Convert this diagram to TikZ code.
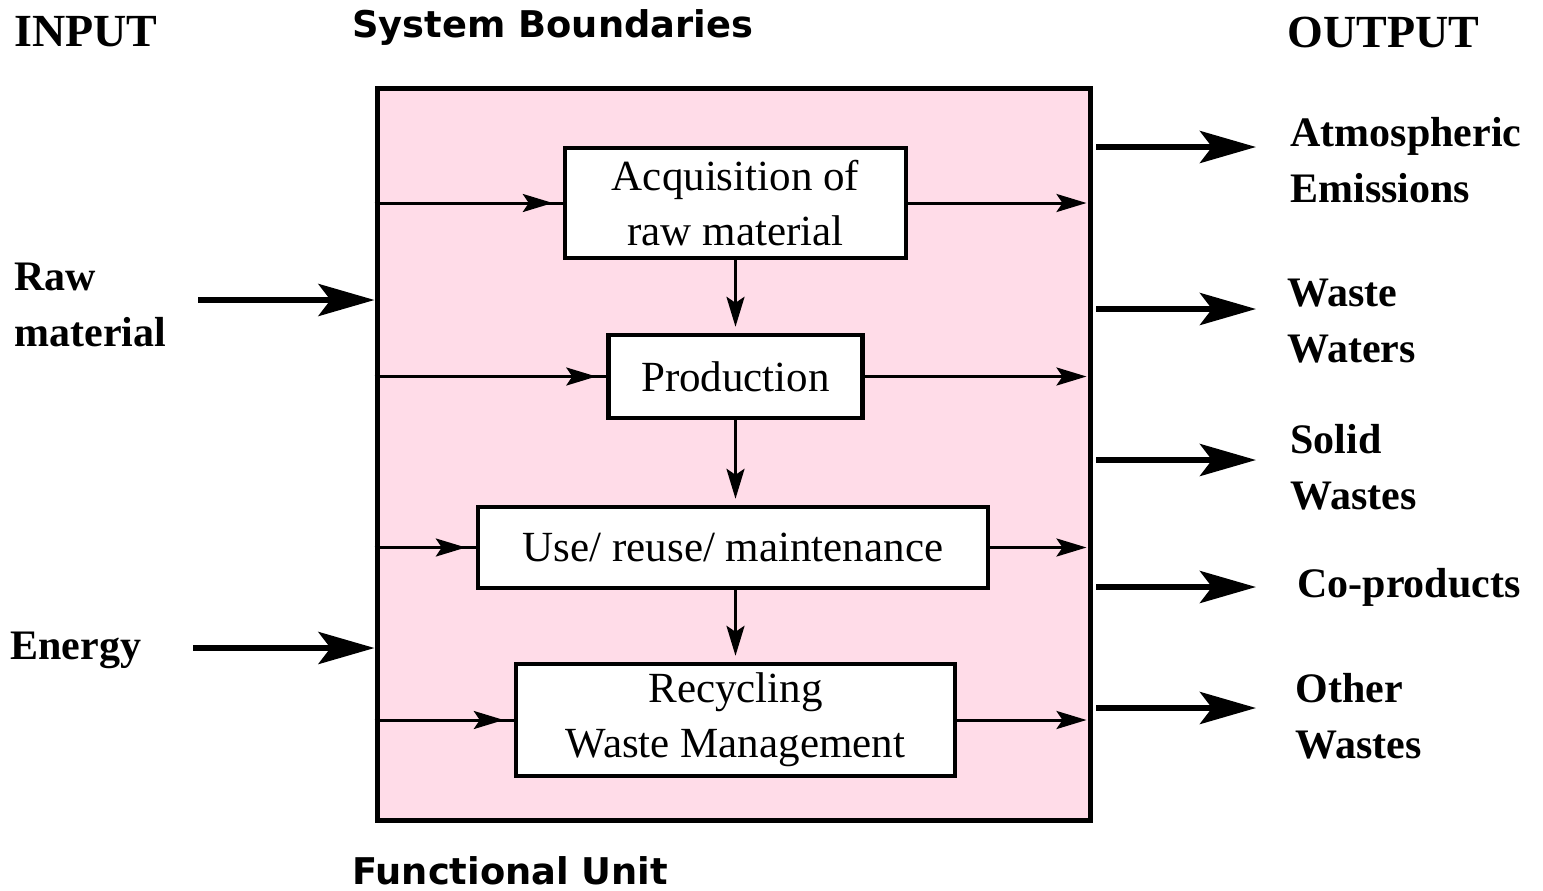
\documentclass[tikz,border=0pt]{standalone}
\usepackage{fontspec}
\setmainfont{Liberation Serif}
\newfontfamily\headsans{DejaVu Sans}
\usetikzlibrary{arrows.meta}
\definecolor{sysfill}{RGB}{255,220,232}
\tikzset{
  px/.style={x=0.5pt,y=-0.5pt},
  procbox/.style={draw,line width=2.2pt,fill=white,inner sep=0pt,align=center,
    font=\fontsize{21.5}{27.5}\selectfont},
  lbl/.style={anchor=west,align=left,inner sep=0pt,font=\bfseries\fontsize{21}{28}\selectfont},
  head/.style={inner sep=0pt,font=\bfseries\fontsize{23}{28}\selectfont},
  sanshead/.style={inner sep=0pt,anchor=base west,font=\headsans\bfseries\fontsize{18.4}{22}\selectfont},
  thin/.style={line width=1.5pt},
  thinarr/.style={line width=1.5pt,-{Stealth[length=15pt,width=9pt,inset=3pt]}},
  thickarr/.style={line width=3pt,-{Stealth[length=28pt,width=16pt,inset=6pt]}},
}
\begin{document}
\begin{tikzpicture}[px]
\useasboundingbox (0,0) rectangle (1543,890);
% system boundary
\node[draw,line width=2.5pt,fill=sysfill,minimum width=356.5pt,minimum height=366pt,inner sep=0pt] (sys) at (733.5,454) {};
% process boxes
\node[procbox,minimum width=170.5pt,minimum height=55pt] (b1) at (735.5,203) {Acquisition of\\raw material};
\node[procbox,minimum width=127pt,minimum height=41.5pt] (b2) at (735.5,376.5) {Production};
\node[procbox,minimum width=255pt,minimum height=40.5pt] (b3) at (733,547.5) {Use/ reuse/ maintenance};
\node[procbox,minimum width=219.5pt,minimum height=56pt] (b4) at (735.5,720) {Recycling\\Waste Management};
% vertical arrows
\draw[thinarr,shorten >=3pt] (b1.south) -- (b2.north);
\draw[thinarr,shorten >=3pt] (b2.south) -- (b2.south |- b3.north);
\draw[thinarr,shorten >=3pt] (b2.south |- b3.south) -- (b4.north);
% left internal arrows
\foreach \b in {b1,b2,b3,b4}{
  \draw[thin] (sys.west |- \b.west) -- (\b.west);
  \draw[thinarr,shorten >=5pt] (sys.west |- \b.west) -- (\b.west);
  \draw[thinarr,shorten >=3pt] (\b.east) -- (sys.east |- \b.east);
}
% headings
\node[head,anchor=west] (inp) at (14,32) {INPUT};
\node[head,anchor=west] (outp) at (1287,32) {OUTPUT};
\node[sanshead] (sb) at (352,37) {System Boundaries};
\node[sanshead] (fu) at (352,884) {Functional Unit};
% input labels
\node[lbl] (raw) at (14,305) {Raw\\material};
\node[lbl] (energy) at (10,650) {Energy};
\coordinate (rawS) at (198,300);
\coordinate (enS) at (193,648);
\draw[thickarr] (rawS) -- (sys.west |- rawS);
\draw[thickarr] (enS) -- (sys.west |- enS);
% output labels
\node[lbl] (atm) at (1290,160) {Atmospheric\\Emissions};
\node[lbl] (ww) at (1287,321) {Waste\\Waters};
\node[lbl] (sw) at (1290,467) {Solid\\Wastes};
\node[lbl] (co) at (1297,587) {Co-products};
\node[lbl] (ow) at (1295,716) {Other\\Wastes};
\foreach \y/\n in {147/o1,309/o2,460/o3,587/o4,708/o5}{
  \coordinate (\n s) at (1096,\y);
  \coordinate (\n e) at (1256,\y);
  \draw[thickarr] (\n s) -- (\n e);
}
\end{tikzpicture}
\end{document}
